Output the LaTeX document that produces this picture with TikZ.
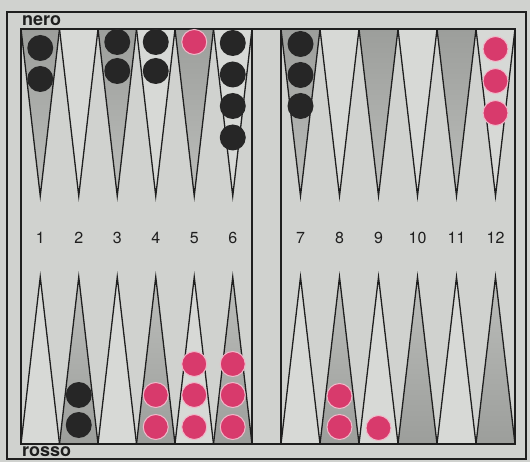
\documentclass[tikz,border=0pt]{standalone}
\usepackage{fontspec}
\setmainfont{TeX Gyre Heros}
\definecolor{bg}{HTML}{D0D2CF}
\definecolor{lightpt}{HTML}{D7D9D6}
\definecolor{darkA}{HTML}{9C9E9B}
\definecolor{darkB}{HTML}{BCBEBB}
\definecolor{blk}{HTML}{262626}
\definecolor{pnk}{HTML}{D83A6C}
\definecolor{pnkrim}{HTML}{F0B8C9}
\tikzset{
  frameline/.style={draw=black!88, line width=1.6pt},
  ptline/.style={draw=black!88, line width=1.3pt, line join=miter},
  ptlight/.style={ptline, fill=lightpt},
  ptdarktop/.style={ptline, top color=darkA, bottom color=darkB},
  ptdarkbot/.style={ptline, top color=darkB, bottom color=darkA},
  blackchk/.style={circle, inner sep=0pt, minimum size=26pt, fill=blk},
  pinkchk/.style={circle, inner sep=0pt, minimum size=25pt, fill=pnk, draw=pnkrim, line width=1pt},
  numlbl/.style={font=\fontsize{16}{18}\selectfont, inner sep=0pt, text=black!88},
  sidelbl/.style={font=\bfseries\fontsize{18}{20}\selectfont, inner sep=0pt, anchor=base west, text=black!88}
}
\begin{document}
\begin{tikzpicture}[x=1pt, y=-1pt]
\useasboundingbox (0,0) rectangle (530,462);
\fill[bg] (0,0) rectangle (530,462);
% points, left half
\foreach \i in {1,...,6} {
  \pgfmathsetmacro{\xl}{21+(\i-1)*38.5}
  \pgfmathsetmacro{\xr}{\xl+38.5}
  \pgfmathsetmacro{\xc}{\xl+19.25}
  \ifodd\i
    \path[ptdarktop] (\xl,29) -- (\xr,29) -- (\xc,196) -- cycle;
    \path[ptlight] (\xl,444) -- (\xr,444) -- (\xc,277) -- cycle;
  \else
    \path[ptlight] (\xl,29) -- (\xr,29) -- (\xc,196) -- cycle;
    \path[ptdarkbot] (\xl,444) -- (\xr,444) -- (\xc,277) -- cycle;
  \fi
}
% points, right half
\foreach \i in {7,...,12} {
  \pgfmathsetmacro{\xl}{281+(\i-7)*39}
  \pgfmathsetmacro{\xr}{\xl+39}
  \pgfmathsetmacro{\xc}{\xl+19.5}
  \ifodd\i
    \path[ptdarktop] (\xl,29) -- (\xr,29) -- (\xc,196) -- cycle;
    \path[ptlight] (\xl,444) -- (\xr,444) -- (\xc,277) -- cycle;
  \else
    \path[ptlight] (\xl,29) -- (\xr,29) -- (\xc,196) -- cycle;
    \path[ptdarkbot] (\xl,444) -- (\xr,444) -- (\xc,277) -- cycle;
  \fi
}
% frames and bar
\draw[frameline] (7,12) rectangle (526,459);
\draw[frameline] (21,29) rectangle (515,444);
\draw[frameline] (252,29) -- (252,444);
\draw[frameline] (281,29) -- (281,444);
% labels
\node[sidelbl] (nero) at (22,26) {nero};
\node[sidelbl] (rosso) at (22,456) {rosso};
\node[numlbl] (n1) at (40.25,238) {1};
\node[numlbl] (n2) at (78.75,238) {2};
\node[numlbl] (n3) at (117.25,238) {3};
\node[numlbl] (n4) at (155.75,238) {4};
\node[numlbl] (n5) at (194.25,238) {5};
\node[numlbl] (n6) at (232.75,238) {6};
\node[numlbl] (n7) at (300.5,238) {7};
\node[numlbl] (n8) at (339.5,238) {8};
\node[numlbl] (n9) at (378.5,238) {9};
\node[numlbl] (n10) at (417.5,238) {10};
\node[numlbl] (n11) at (456.5,238) {11};
\node[numlbl] (n12) at (495.5,238) {12};
% top checkers
\node[blackchk] (t1a) at (40.25,48) {};
\node[blackchk] (t1b) at (40.25,79) {};
\node[blackchk] (t3a) at (117.25,42) {};
\node[blackchk] (t3b) at (117.25,71) {};
\node[blackchk] (t4a) at (155.75,42) {};
\node[blackchk] (t4b) at (155.75,71) {};
\node[pinkchk] (t5a) at (194.25,42) {};
\node[blackchk] (t6a) at (232.75,43) {};
\node[blackchk] (t6b) at (232.75,74.5) {};
\node[blackchk] (t6c) at (232.75,106) {};
\node[blackchk] (t6d) at (232.75,137.5) {};
\node[blackchk] (t7a) at (300.5,44) {};
\node[blackchk] (t7b) at (300.5,75) {};
\node[blackchk] (t7c) at (300.5,106) {};
\node[pinkchk] (t12a) at (495.5,49) {};
\node[pinkchk] (t12b) at (495.5,81) {};
\node[pinkchk] (t12c) at (495.5,113) {};
% bottom checkers
\node[blackchk] (b2a) at (78.75,425) {};
\node[blackchk] (b2b) at (78.75,395) {};
\node[pinkchk] (b4a) at (155.75,427) {};
\node[pinkchk] (b4b) at (155.75,395) {};
\node[pinkchk] (b5a) at (194.25,427) {};
\node[pinkchk] (b5b) at (194.25,395) {};
\node[pinkchk] (b5c) at (194.25,364) {};
\node[pinkchk] (b6a) at (232.75,427) {};
\node[pinkchk] (b6b) at (232.75,395) {};
\node[pinkchk] (b6c) at (232.75,364) {};
\node[pinkchk] (b8a) at (339.5,427) {};
\node[pinkchk] (b8b) at (339.5,396) {};
\node[pinkchk] (b9a) at (378.5,428) {};
\end{tikzpicture}
\end{document}
